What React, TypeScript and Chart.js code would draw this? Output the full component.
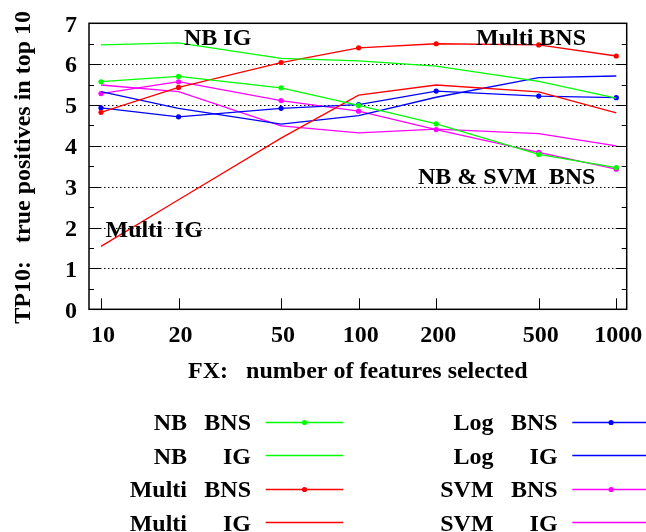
import React, { useEffect, useRef } from "react";
import { Chart, registerables } from "chart.js";

Chart.register(...registerables);

// ---- data ----
const featureCounts = [10, 20, 50, 100, 200, 500, 1000];
const nbBns = [5.57, 5.7, 5.42, 4.99, 4.54, 3.79, 3.47];
const nbIg = [6.47, 6.52, 6.14, 6.08, 5.95, 5.58, 5.17];
const multiBns = [4.82, 5.43, 6.04, 6.4, 6.5, 6.47, 6.2];
const multiIg = [1.54, 2.68, 4.19, 5.24, 5.49, 5.32, 4.81];
const logBns = [4.93, 4.71, 4.92, 5.01, 5.34, 5.22, 5.18];
const logIg = [5.33, 4.92, 4.53, 4.74, 5.19, 5.67, 5.71];
const svmBns = [5.28, 5.57, 5.11, 4.85, 4.4, 3.84, 3.43];
const svmIg = [5.49, 5.33, 4.49, 4.32, 4.41, 4.3, 4.0];

const xTickValues = [10, 20, 50, 100, 200, 500, 1000];
const xTickLabels = ["10", "20", "50", "100", "200", "500", "1000"];
const yTickValues = [0, 1, 2, 3, 4, 5, 6, 7];
const yTickLabels = ["0", "1", "2", "3", "4", "5", "6", "7"];

const classifierNames = ["NB", "NB", "Multi", "Multi", "Log", "Log", "SVM", "SVM"];
const methodNames = ["BNS", "IG", "BNS", "IG", "BNS", "IG", "BNS", "IG"];
const seriesValues = [nbBns, nbIg, multiBns, multiIg, logBns, logIg, svmBns, svmIg];
const seriesColors = ["#00ff00", "#00ff00", "#ff0000", "#ff0000", "#0000ff", "#0000ff", "#ff00ff", "#ff00ff"];

const xTitle = "FX:   number of features selected";
const yTitle = "TP10:   true positives in top 10";
const annotations = [
  { text: "NB IG", x: 184, y: 44.5 },
  { text: "Multi BNS", x: 476, y: 44.5 },
  { text: "NB & SVM  BNS", x: 418, y: 183.5 },
  { text: "Multi  IG", x: 105.5, y: 236.8 },
];

const FONT = 'bold 24px "Liberation Serif", "Times New Roman", serif';

const framePlugin = {
  id: "frame",
  beforeDatasetsDraw(chart: any) {
    const { ctx, chartArea: a, scales } = chart;
    const y = scales.y;
    const x = scales.x;
    ctx.save();
    // dotted grid lines
    ctx.strokeStyle = "#000";
    ctx.lineWidth = 1;
    ctx.setLineDash([1.5, 2.5]);
    yTickValues.forEach((v, i) => {
      if (i === 0 || i === yTickValues.length - 1) return;
      const py = Math.round(y.getPixelForValue(v)) + 0.5;
      ctx.beginPath();
      ctx.moveTo(a.left + 11, py);
      ctx.lineTo(a.right - 11, py);
      ctx.stroke();
    });
    ctx.setLineDash([]);
    // y ticks (major and minor), both sides
    ctx.lineWidth = 1;
    yTickValues.forEach((v, i) => {
      const py = Math.round(y.getPixelForValue(v)) + 0.5;
      ctx.beginPath();
      ctx.moveTo(a.left, py);
      ctx.lineTo(a.left + 11, py);
      ctx.moveTo(a.right, py);
      ctx.lineTo(a.right - 11, py);
      ctx.stroke();
      if (i < yTickValues.length - 1) {
        const mid = (v + yTickValues[i + 1]) / 2;
        const pm = Math.round(y.getPixelForValue(mid)) + 0.5;
        ctx.beginPath();
        ctx.moveTo(a.left, pm);
        ctx.lineTo(a.left + 5, pm);
        ctx.moveTo(a.right, pm);
        ctx.lineTo(a.right - 5, pm);
        ctx.stroke();
      }
    });
    // x ticks
    xTickValues.forEach((v) => {
      const px = Math.round(x.getPixelForValue(v)) + 0.5;
      ctx.beginPath();
      ctx.moveTo(px, a.bottom);
      ctx.lineTo(px, a.bottom - 11);
      ctx.stroke();
    });
    ctx.restore();
  },
  afterDraw(chart: any) {
    const { ctx, chartArea: a, scales } = chart;
    const y = scales.y;
    const x = scales.x;
    ctx.save();
    // frame
    ctx.strokeStyle = "#000";
    ctx.lineWidth = 1.5;
    ctx.strokeRect(a.left, a.top, a.right - a.left, a.bottom - a.top);

    ctx.fillStyle = "#000";
    ctx.font = FONT;
    // y tick labels
    ctx.textAlign = "right";
    ctx.textBaseline = "alphabetic";
    yTickValues.forEach((v, i) => {
      ctx.fillText(yTickLabels[i], a.left - 12, y.getPixelForValue(v) + 8.2);
    });
    // x tick labels
    ctx.textAlign = "center";
    xTickValues.forEach((v, i) => {
      ctx.fillText(xTickLabels[i], x.getPixelForValue(v) + 2, a.bottom + 33);
    });
    // x title
    ctx.fillText(xTitle, (a.left + a.right) / 2, a.bottom + 69);
    // y title
    ctx.save();
    ctx.translate(29.5, (a.top + a.bottom) / 2 + 1);
    ctx.rotate(-Math.PI / 2);
    ctx.textAlign = "center";
    ctx.fillText(yTitle, 0, 0);
    ctx.restore();
    // annotations
    ctx.textAlign = "left";
    annotations.forEach((t) => ctx.fillText(t.text, t.x, t.y));

    // legend
    const rowY0 = 421.7;
    const rowStep = 33.5;
    const colOffset = 306.6;
    chart.data.datasets.forEach((ds: any, i: number) => {
      const col = Math.floor(i / 4);
      const row = i % 4;
      const ly = rowY0 + row * rowStep;
      const dx = col * colOffset;
      ctx.fillStyle = "#000";
      ctx.font = FONT;
      ctx.textAlign = "right";
      ctx.fillText(classifierNames[i], 187 + dx, ly + 8.5);
      ctx.fillText(methodNames[i], 251 + dx, ly + 8.5);
      const ly2 = Math.round(ly) + 0.5;
      ctx.strokeStyle = ds.borderColor;
      ctx.lineWidth = ds.borderWidth;
      ctx.beginPath();
      ctx.moveTo(265.7 + dx, ly2);
      ctx.lineTo(343.3 + dx, ly2);
      ctx.stroke();
      if (ds.pointRadius > 0) {
        ctx.fillStyle = ds.borderColor;
        ctx.beginPath();
        ctx.arc(304.5 + dx, ly2, ds.pointRadius, 0, Math.PI * 2);
        ctx.fill();
      }
    });
    ctx.restore();
  },
};

export default function App() {
  const canvasRef = useRef<HTMLCanvasElement | null>(null);

  useEffect(() => {
    if (!canvasRef.current) return;
    const datasets = seriesValues.map((vals, i) => ({
      label: classifierNames[i] + " " + methodNames[i],
      data: featureCounts.map((fx, j) => ({ x: fx, y: vals[j] })),
      borderColor: seriesColors[i],
      backgroundColor: seriesColors[i],
      borderWidth: 1.3,
      pointRadius: methodNames[i] === "BNS" ? 2.6 : 0,
      pointHoverRadius: 0,
      pointBorderWidth: 0,
      pointStyle: "circle",
      tension: 0,
      fill: false,
    }));
    const chart = new Chart(canvasRef.current, {
      type: "line",
      data: { datasets },
      options: {
        animation: false,
        responsive: false,
        maintainAspectRatio: false,
        events: [],
        layout: { padding: { left: 0, top: 23.3, right: 19.3, bottom: 222.7 } },
        plugins: { legend: { display: false }, tooltip: { enabled: false }, title: { display: false } },
        scales: {
          x: {
            type: "logarithmic",
            min: 8.985,
            max: 1097.5,
            grid: { display: false },
            border: { display: false },
            ticks: { display: false },
            afterFit: (s: any) => {
              s.height = 0;
            },
          },
          y: {
            type: "linear",
            min: 0,
            max: 7,
            grid: { display: false },
            border: { display: false },
            ticks: { display: false, stepSize: 1 },
            afterFit: (s: any) => {
              s.width = 89;
            },
          },
        },
      },
      plugins: [framePlugin],
    });
    return () => chart.destroy();
  }, []);

  return (
    <div style={{ position: "fixed", left: 0, top: 0, width: 646, height: 532, background: "#fff" }}>
      <canvas ref={canvasRef} width={646} height={532} style={{ width: 646, height: 532, display: "block" }} />
    </div>
  );
}
